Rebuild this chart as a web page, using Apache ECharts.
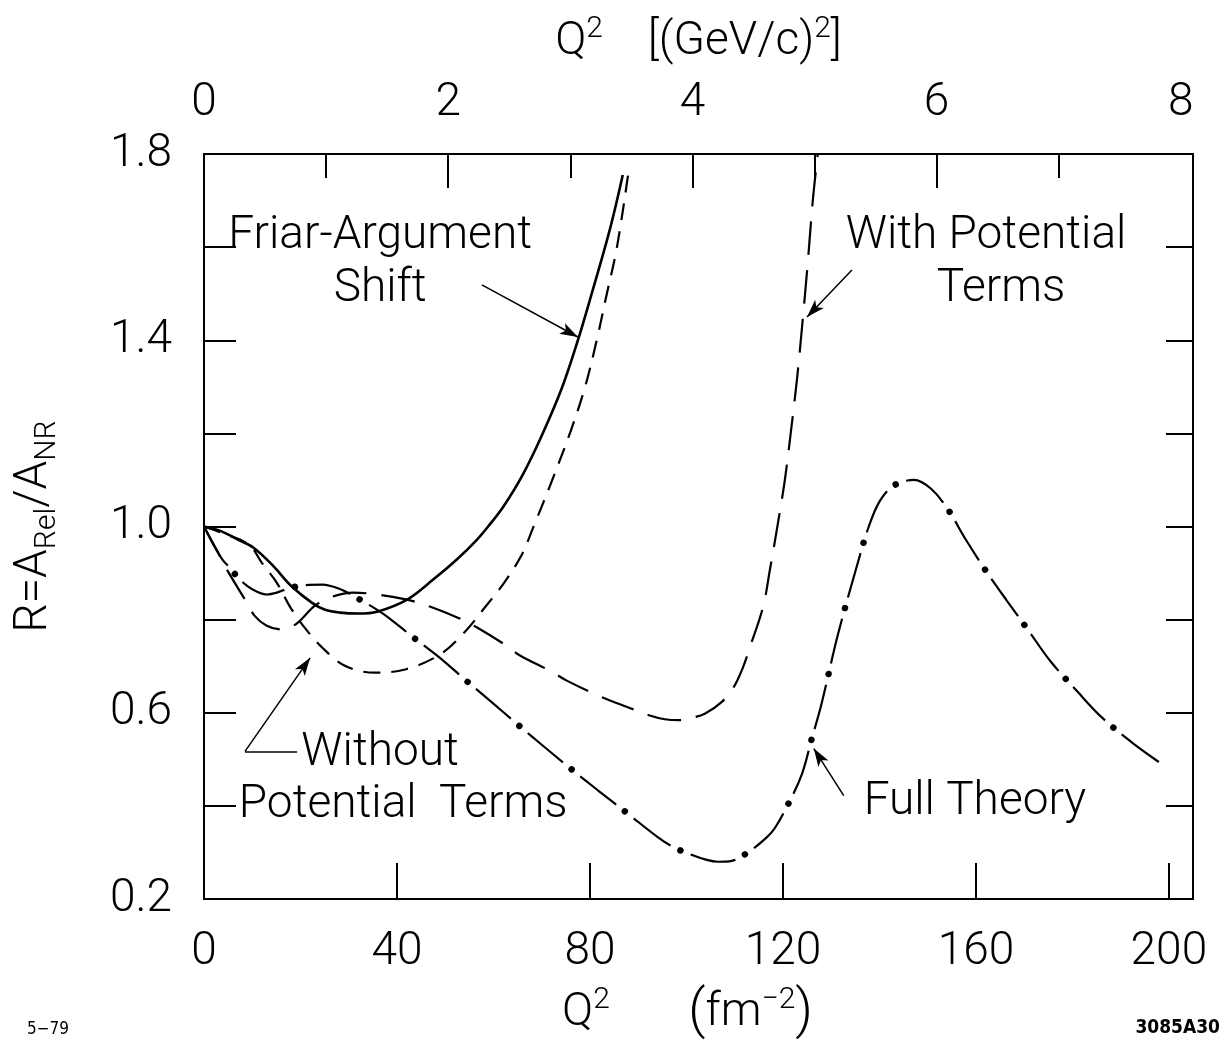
<!DOCTYPE html>
<html><head><meta charset="utf-8">
<script src="https://cdn.jsdelivr.net/npm/echarts@6/dist/echarts.min.js"></script>
<style>html,body{margin:0;padding:0;background:#fff}#c{width:1226px;height:1049px}</style>
</head><body><div id="c"></div><script>
// ---- data (Q^2 in fm^-2, R) ----
const fmTicks = [40, 80, 120, 160, 200];
const fmLabels = [0, 40, 80, 120, 160, 200];
const gevLabels = [0, 2, 4, 6, 8];
const gevMajorTicks = [2, 4, 6];
const gevMinorTicks = [1, 3, 5, 7];
const rLabels = [0.2, 0.6, 1.0, 1.4, 1.8];
const rTicks = [0.4, 0.6, 0.8, 1.0, 1.2, 1.4, 1.6];

const friarShift = [[0,1.0],[3.5,0.99],[7,0.972],[10.2,0.955],[14.1,0.918],[18.2,0.871],[22.4,0.836],[25.1,0.821],[28.2,0.815],[32,0.813],[35.9,0.817],[42.1,0.843],[47.5,0.886],[52.4,0.929],[56.6,0.972],[58.9,1.0],[62,1.042],[66,1.11],[70,1.195],[74.2,1.298],[77.5,1.40],[80,1.487],[84.1,1.637],[86.8,1.755]];

const withoutPot = [[0,1.0],[4,0.985],[9.3,0.961],[12,0.922],[15.1,0.879],[17.8,0.828],[20.7,0.785],[24.5,0.740],[29.2,0.701],[35.4,0.686],[41.7,0.693],[48.9,0.725],[54.1,0.774],[58.2,0.826],[62.2,0.879],[65.9,0.940],[68.2,0.997],[72,1.095],[76,1.205],[79,1.30],[81.4,1.40],[83.5,1.50],[85.6,1.60],[87.9,1.755]];

const withPot = [[0,1.0],[2.5,0.952],[5,0.903],[8.5,0.843],[10.5,0.808],[13,0.787],[16,0.779],[19,0.79],[23,0.83],[26.5,0.849],[30.9,0.858],[35.9,0.854],[42.1,0.843],[46.8,0.828],[53.1,0.802],[56.6,0.783],[62.4,0.746],[65.5,0.723],[72.1,0.688],[75.2,0.669],[82.1,0.635],[85.8,0.62],[92.4,0.594],[95.5,0.586],[98.5,0.584],[100.7,0.588],[103.8,0.598],[107.4,0.624],[109.8,0.655],[111.7,0.697],[113.2,0.742],[115.9,0.828],[117.3,0.907],[118.8,0.997],[120.4,1.10],[121.7,1.208],[122.9,1.315],[124.1,1.444],[125.2,1.573],[126.2,1.701],[127.2,1.798]];

const fullTheory = [[0,1.0],[2,0.96],[3.9,0.928],[5.6,0.909],[6.8,0.893],[9,0.872],[11,0.86],[13,0.854],[15.1,0.858],[17.8,0.868],[21,0.874],[24.7,0.875],[26.7,0.871],[29,0.862],[32.5,0.842],[35.9,0.821],[38.3,0.804],[43,0.765],[48.9,0.718],[54,0.672],[59.5,0.624],[65,0.575],[70.5,0.527],[76,0.48],[81.7,0.433],[88,0.382],[93.9,0.334],[97,0.313],[100.5,0.297],[104.2,0.284],[106.5,0.280],[109.4,0.282],[113,0.302],[116.7,0.333],[118.3,0.352],[121,0.402],[123.9,0.467],[126,0.545],[127.9,0.615],[131.4,0.768],[135.3,0.914],[137.8,1.0],[140.1,1.055],[143,1.088],[147.2,1.10],[150.7,1.081],[154,1.04],[157.9,0.972],[162,0.906],[166.4,0.841],[171,0.775],[175.5,0.710],[181,0.646],[186.1,0.590],[192.5,0.535],[199.2,0.485]];

const annoTexts = [
  {text: 'Friar-Argument', x: 36.5, y: 1.622},
  {text: 'Shift', x: 36.5, y: 1.508},
  {text: 'With Potential', x: 162.1, y: 1.622},
  {text: 'Terms', x: 165.2, y: 1.508},
  {text: 'Without', x: 36.5, y: 0.512},
  {text: 'Potential  Terms', x: 41.3, y: 0.401},
  {text: 'Full Theory', x: 159.8, y: 0.407}
];
const arrows = [
  [[57.6, 1.519], [77.5, 1.407]],
  [[134.3, 1.551], [125.0, 1.45]],
  [[8.5, 0.517], [22.0, 0.718]],
  [[132.6, 0.422], [126.4, 0.523]]
];
const plainSegments = [
  [[8.5, 0.517], [19.3, 0.517]]
];

// ---- styling ----
const FONT = "Roboto, 'DejaVu Sans', sans-serif";
const FW = 300;
const BLACK = '#000';
const labelStyle = {fontFamily: FONT, fontWeight: FW, fontSize: 46, color: BLACK};
const rich = {
  t: {fontFamily: FONT, fontWeight: FW, fontSize: 46, color: BLACK, lineHeight: 56},
  p: {fontFamily: FONT, fontWeight: FW, fontSize: 54, color: BLACK, lineHeight: 56},
  s: {fontFamily: FONT, fontWeight: FW, fontSize: 30, color: BLACK, lineHeight: 30, verticalAlign: 'top'},
  b: {fontFamily: FONT, fontWeight: FW, fontSize: 30, color: BLACK, lineHeight: 30, verticalAlign: 'bottom'}
};

const markLineData = [];
markLineData.push([{yAxis: 1.0, symbol: 'none', lineStyle: {width: 1.3, type: 'solid', color: BLACK}}, {yAxis: 1.0, symbol: 'none'}]);
arrows.forEach(a => markLineData.push([
  {coord: a[0], symbol: 'none', lineStyle: {width: 1.5, type: 'solid', color: BLACK}},
  {coord: a[1], symbol: 'arrow', symbolSize: [9, 18]}
]));
plainSegments.forEach(a => markLineData.push([
  {coord: a[0], symbol: 'none', lineStyle: {width: 1.5, type: 'solid', color: BLACK}},
  {coord: a[1], symbol: 'none'}
]));

function lineSeries(name, data, lineStyle, extra) {
  return Object.assign({
    name, type: 'line', data, xAxisIndex: 0, yAxisIndex: 0,
    showSymbol: false, symbol: 'none', smooth: 0.35, silent: true,
    lineStyle: Object.assign({color: BLACK, cap: 'butt'}, lineStyle)
  }, extra || {});
}

const chart = echarts.init(document.getElementById('c'), null, {renderer: 'canvas'});
const option = {
  animation: false,
  backgroundColor: '#fff',
  grid: {left: 204, right: 33, top: 154, bottom: 150, containLabel: false},
  xAxis: [
    {
      type: 'value', position: 'bottom', min: 0, max: 205,
      axisLine: {show: true, onZero: false, lineStyle: {color: BLACK, width: 2}},
      axisTick: {show: true, inside: true, length: 36, customValues: fmTicks, lineStyle: {color: BLACK, width: 2}},
      axisLabel: Object.assign({show: true, margin: 30, customValues: fmLabels}, labelStyle),
      splitLine: {show: false},
      name: '{t|Q}{s|2}{t|       }{p|(}{t|fm}{s|−2}{p|)}',
      nameLocation: 'middle', nameGap: 86,
      nameTextStyle: {rich: rich, padding: [0, 22, 0, 0]}
    },
    {
      type: 'value', position: 'top', min: 0, max: 8.1,
      axisLine: {show: true, onZero: false, lineStyle: {color: BLACK, width: 2}},
      axisTick: {show: true, inside: true, length: 34, customValues: gevMajorTicks, lineStyle: {color: BLACK, width: 2}},
      axisLabel: Object.assign({show: true, margin: 28, customValues: gevLabels}, labelStyle),
      splitLine: {show: false},
      name: '{t|Q}{s|2}{t|    [(GeV/c)}{s|2}{t|]}',
      nameLocation: 'middle', nameGap: 84,
      nameTextStyle: {rich: rich}
    },
    {
      type: 'value', position: 'top', min: 0, max: 8.1,
      axisLine: {show: false},
      axisTick: {show: true, inside: true, length: 24, customValues: gevMinorTicks, lineStyle: {color: BLACK, width: 2}},
      axisLabel: {show: false},
      splitLine: {show: false}
    }
  ],
  yAxis: [
    {
      type: 'value', position: 'left', min: 0.2, max: 1.8,
      axisLine: {show: true, onZero: false, lineStyle: {color: BLACK, width: 2}},
      axisTick: {show: true, inside: true, length: 32, customValues: rTicks, lineStyle: {color: BLACK, width: 2}},
      axisLabel: Object.assign({show: true, margin: 32, customValues: rLabels, formatter: v => v.toFixed(1)}, labelStyle),
      splitLine: {show: false},
      name: '{t|R=A}{b|Rel}{t|/A}{b|NR}',
      nameLocation: 'middle', nameGap: 142, nameRotate: 90,
      nameTextStyle: {rich: rich}
    },
    {
      type: 'value', position: 'right', min: 0.2, max: 1.8,
      axisLine: {show: true, onZero: false, lineStyle: {color: BLACK, width: 2}},
      axisTick: {show: true, inside: true, length: 27, customValues: rTicks, lineStyle: {color: BLACK, width: 2}},
      axisLabel: {show: false},
      splitLine: {show: false}
    }
  ],
  series: [
    lineSeries('Friar-Argument Shift', friarShift, {width: 2.6, type: 'solid'}, {
      z: 3,
      markLine: {silent: true, animation: false, symbol: 'none', label: {show: false}, emphasis: {disabled: true}, data: markLineData}
    }),
    lineSeries('Without Potential Terms', withoutPot, {width: 2.2, type: [17, 11]}),
    lineSeries('With Potential Terms', withPot, {width: 2.2, type: [34, 15]}),
    lineSeries('Full Theory', fullTheory, {width: 2.2, type: [46, 22]}),
    lineSeries('Full Theory dots', fullTheory, {width: 6.5, type: [0.01, 67.99], dashOffset: 11, cap: 'round'}, {z: 4})
  ]
};
chart.setOption(option);

const gfx = annoTexts.map(a => {
  const p = chart.convertToPixel({xAxisIndex: 0, yAxisIndex: 0}, [a.x, a.y]);
  return {
    type: 'text', x: p[0], y: p[1], silent: true,
    style: {text: a.text, fill: BLACK, font: FW + ' 46px ' + FONT, textAlign: 'center', textVerticalAlign: 'middle', align: 'center', verticalAlign: 'middle'}
  };
});
gfx.push({type: 'text', left: 27, top: 1021, silent: true, style: {text: '5−79', fill: BLACK, font: '17px "DejaVu Sans Condensed", "DejaVu Sans", sans-serif'}});
gfx.push({type: 'text', right: 6, top: 1019, silent: true, style: {text: '3085A30', fill: BLACK, font: 'bold 19px "DejaVu Sans Condensed", "DejaVu Sans", sans-serif'}});
chart.setOption({graphic: gfx});
</script></body></html>
